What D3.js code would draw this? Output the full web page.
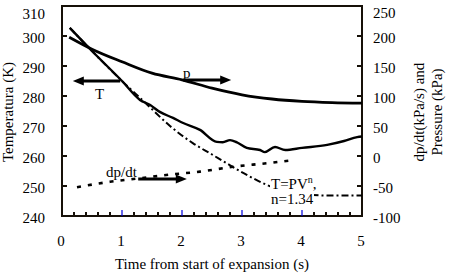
<!DOCTYPE html>
<html>
<head>
<meta charset="utf-8">
<script src="https://cdn.jsdelivr.net/npm/d3@7"></script>
<style>
  body { margin: 0; background: #fff; }
  svg text { font-family: "Liberation Serif", "Times New Roman", serif; font-size: 15px; fill: #000; }
</style>
</head>
<body>
<svg id="chart" width="451" height="275"></svg>
<script>
// data
const tempTicks = [240, 250, 260, 270, 280, 290, 300, 310];
const presTicks = [-100, -50, 0, 50, 100, 150, 200, 250];
const timeTicks = [0, 1, 2, 3, 4, 5];

const pTime = [0.12, 0.5, 1.0, 1.5, 2.0, 2.5, 3.0, 3.5, 4.0, 4.5, 5.0];
const pVal = [198, 178, 157, 138, 127, 113, 102, 95, 91, 89, 88];

const tTime = [0.13, 0.5, 1.0, 1.3, 1.47, 1.63, 1.85, 2.02, 2.3, 2.58, 2.68, 2.8, 2.92, 3.08, 3.3, 3.38, 3.55, 3.72, 4.0, 4.42, 4.7, 4.92, 5.0];
const tVal = [302.7, 295, 285, 278.7, 277, 274.7, 272.7, 271, 268.7, 264.7, 264.6, 265.3, 264.5, 262.7, 262, 261.3, 263, 262, 262.7, 263.7, 265, 266.3, 266.5];

const pvnTime = [0.13, 0.5, 1.0, 1.4, 1.8, 2.18, 2.5, 2.75, 3.08, 3.42, 3.8, 4.18, 4.5, 5.0];
const pvnVal = [302.7, 295, 285, 277.5, 270, 264.3, 260.5, 257.5, 253.7, 250.3, 247.7, 247, 246.8, 246.8];

const dpTime = [0.25, 0.8, 1.3, 1.8, 2.3, 2.85, 3.42, 3.85];
const dpVal = [-52, -43, -37, -31, -26, -18, -12, -7];

const svg = d3.select("#chart");
const pl = 62, pr = 362, pt = 6, pb = 216;

const x = d3.scaleLinear().domain([0, 5]).range([pl, pr]);
const yL = d3.scaleLinear().domain([240, 310]).range([pb, pt]);
const yR = d3.scaleLinear().domain([-100, 250]).range([pb, pt]);

const ink = "#161008";

// frame
svg.append("rect")
    .attr("x", pl).attr("y", pt)
    .attr("width", pr - pl).attr("height", pb - pt)
    .style("fill", "none").style("stroke", ink).style("stroke-width", 2);

// left axis ticks + labels
tempTicks.forEach((v, i) => {
    svg.append("line")
        .attr("x1", pl).attr("x2", pl + 5)
        .attr("y1", yL(v)).attr("y2", yL(v))
        .style("stroke", ink).style("stroke-width", 2);
    svg.append("text")
        .attr("x", pl - 17)
        .attr("y", (i === tempTicks.length - 1 ? yL(v) + 8 : yL(v) + 2))
        .attr("dy", "0.35em")
        .attr("text-anchor", "end")
        .text(v);
});

// right axis ticks + labels
presTicks.forEach((v, i) => {
    svg.append("line")
        .attr("x1", pr - 5).attr("x2", pr)
        .attr("y1", yR(v)).attr("y2", yR(v))
        .style("stroke", ink).style("stroke-width", 2);
    svg.append("text")
        .attr("x", pr + 11)
        .attr("y", (i === presTicks.length - 1 ? yR(v) + 7 : yR(v) + 2))
        .attr("dy", "0.35em")
        .text(v);
});

// bottom axis minor ticks (black) and integer ticks (blue)
d3.range(1, 25).forEach(k => {
    let t = k * 0.2;
    let major = k % 5 === 0;
    svg.append("line")
        .attr("x1", x(t)).attr("x2", x(t))
        .attr("y1", pb).attr("y2", pb - (major ? 6 : 4))
        .style("stroke", major ? "#0000dd" : ink)
        .style("stroke-width", major ? 1.2 : 2);
});
timeTicks.forEach(v => {
    svg.append("text")
        .attr("x", x(v) - 1).attr("y", 246)
        .attr("text-anchor", "middle")
        .text(v);
});

// axis titles
svg.append("text")
    .attr("x", (pl + pr) / 2).attr("y", 269)
    .attr("text-anchor", "middle")
    .text("Time from start of expansion (s)");

svg.append("text")
    .attr("transform", "translate(13,112) rotate(-90)")
    .attr("text-anchor", "middle")
    .text("Temperatura (K)");

svg.append("text")
    .attr("transform", "translate(424,112) rotate(-90)")
    .attr("text-anchor", "middle")
    .text("dp/dt(kPa/s) and");
svg.append("text")
    .attr("transform", "translate(442,112) rotate(-90)")
    .attr("text-anchor", "middle")
    .text("Pressure (kPa)");

// curves
const lineL = d3.line().x(d => x(d[0])).y(d => yL(d[1])).curve(d3.curveMonotoneX);
const lineR = d3.line().x(d => x(d[0])).y(d => yR(d[1])).curve(d3.curveMonotoneX);

svg.append("path")
    .datum(pvnTime.map((t, i) => [t, pvnVal[i]]))
    .attr("d", lineL)
    .style("fill", "none").style("stroke", "#000").style("stroke-width", 2)
    .style("stroke-dasharray", "7,3,2,3");

svg.append("path")
    .datum(tTime.map((t, i) => [t, tVal[i]]))
    .attr("d", lineL)
    .style("fill", "none").style("stroke", "#000").style("stroke-width", 2.4);

svg.append("path")
    .datum(pTime.map((t, i) => [t, pVal[i]]))
    .attr("d", lineR)
    .style("fill", "none").style("stroke", "#000").style("stroke-width", 2.8);

svg.append("path")
    .datum(dpTime.map((t, i) => [t, dpVal[i]]))
    .attr("d", lineR)
    .style("fill", "none").style("stroke", "#000").style("stroke-width", 2.6)
    .style("stroke-dasharray", "4,7");

// arrows
function arrow(x1, x2, y) {
    let dir = x2 > x1 ? 1 : -1;
    svg.append("line")
        .attr("x1", x1).attr("x2", x2 - dir * 8)
        .attr("y1", y).attr("y2", y)
        .style("stroke", "#000").style("stroke-width", 3);
    svg.append("path")
        .attr("d", `M${x2},${y} L${x2 - dir * 11},${y - 4.5} L${x2 - dir * 11},${y + 4.5} Z`)
        .style("fill", "#000");
}
arrow(x(0.97), x(0.18), yL(285));
arrow(x(2.02), x(2.82), 80);
arrow(x(1.27), x(2.08), 179);

// labels
svg.append("text").attr("x", 95).attr("y", 99).text("T");
svg.append("text").attr("x", 183).attr("y", 78).text("p");
svg.append("text").attr("x", 106).attr("y", 177).text("dp/dt");

svg.append("rect")
    .attr("x", 270).attr("y", 176).attr("width", 44).attr("height", 30)
    .style("fill", "#fff");
let tp = svg.append("text").attr("x", 271).attr("y", 189);
tp.append("tspan").text("T=PV");
tp.append("tspan").attr("dy", -6).style("font-size", "10px").text("n");
tp.append("tspan").attr("dy", 6).text(",");
svg.append("text").attr("x", 271).attr("y", 204).text("n=1.34");
</script>
</body>
</html>
